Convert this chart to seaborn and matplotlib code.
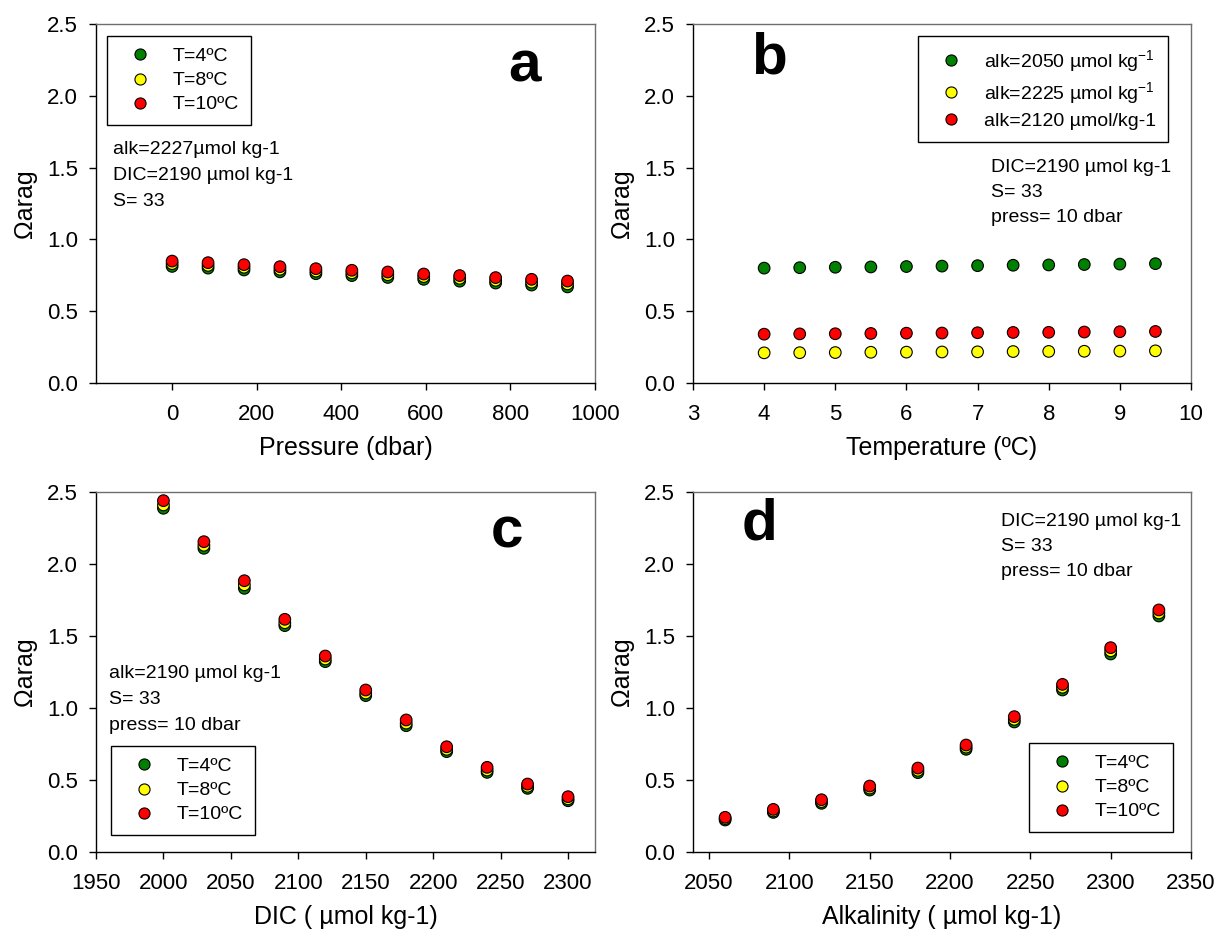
import numpy as np
import pandas as pd
import matplotlib
matplotlib.use("Agg")
import matplotlib.pyplot as plt
from matplotlib.lines import Line2D
import seaborn as sns

# ---------------- data ----------------
temp_labels = ["T=4ºC", "T=8ºC", "T=10ºC"]

# panel a : pressure
pressure = [0, 85, 170, 255, 340, 425, 510, 595, 680, 765, 850, 935]
a_t4 = [0.812, 0.800, 0.787, 0.774, 0.761, 0.748, 0.735, 0.722, 0.709, 0.696, 0.682, 0.669]
a_t8 = [0.831, 0.819, 0.806, 0.792, 0.779, 0.767, 0.754, 0.741, 0.729, 0.715, 0.702, 0.690]
a_t10 = [0.849, 0.838, 0.824, 0.810, 0.796, 0.785, 0.773, 0.759, 0.748, 0.734, 0.722, 0.710]

# panel b : temperature
temperature = [4, 4.5, 5, 5.5, 6, 6.5, 7, 7.5, 8, 8.5, 9, 9.5]
alk_labels = ["alk=2050 µmol kg$^{-1}$", "alk=2225 µmol kg$^{-1}$", "alk=2120 µmol/kg-1"]
b_alk2050 = [0.800, 0.803, 0.806, 0.808, 0.811, 0.814, 0.817, 0.820, 0.822, 0.825, 0.828, 0.831]
b_alk2225 = [0.210, 0.211, 0.212, 0.214, 0.215, 0.216, 0.217, 0.219, 0.220, 0.221, 0.222, 0.224]
b_alk2120 = [0.340, 0.342, 0.343, 0.345, 0.347, 0.348, 0.350, 0.352, 0.353, 0.355, 0.357, 0.359]

# panel c : DIC
dic = [2000, 2030, 2060, 2090, 2120, 2150, 2180, 2210, 2240, 2270, 2300]
c_t4 = [2.387, 2.109, 1.831, 1.572, 1.322, 1.086, 0.877, 0.697, 0.553, 0.442, 0.356]
c_t8 = [2.410, 2.130, 1.855, 1.592, 1.340, 1.104, 0.895, 0.713, 0.569, 0.456, 0.369]
c_t10 = [2.440, 2.155, 1.884, 1.616, 1.361, 1.125, 0.917, 0.731, 0.588, 0.472, 0.384]

# panel d : alkalinity
alkalinity = [2060, 2090, 2120, 2150, 2180, 2210, 2240, 2270, 2300, 2330]
d_t4 = [0.222, 0.275, 0.338, 0.430, 0.551, 0.713, 0.903, 1.125, 1.375, 1.639]
d_t8 = [0.232, 0.285, 0.350, 0.444, 0.567, 0.728, 0.921, 1.144, 1.397, 1.660]
d_t10 = [0.241, 0.296, 0.363, 0.458, 0.583, 0.743, 0.940, 1.164, 1.419, 1.681]

# ---------------- style ----------------
sns.set_theme(style="white")
plt.rcParams["font.family"] = ["Liberation Sans", "DejaVu Sans"]
plt.rcParams["mathtext.fontset"] = "custom"
plt.rcParams["mathtext.rm"] = "Liberation Sans"
plt.rcParams["mathtext.it"] = "Liberation Sans:italic"
plt.rcParams["text.color"] = "black"
plt.rcParams["axes.labelcolor"] = "black"
plt.rcParams["xtick.color"] = "black"
plt.rcParams["ytick.color"] = "black"

COLORS = ["#008000", "#FFFF00", "#FF0000"]
W, H = 1219, 934
fig = plt.figure(figsize=(W / 100, H / 100), dpi=100)


def rect(l, t, r, b):
    return [l / W, 1 - b / H, (r - l) / W, (b - t) / H]


def long_df(x, series, names):
    rows = []
    for s, n in zip(series, names):
        for xi, yi in zip(x, s):
            rows.append({"x": xi, "y": yi, "grp": n})
    return pd.DataFrame(rows)


def style_ax(ax, xlim, xticks, xlabel):
    ax.set_xlim(*xlim)
    ax.set_ylim(0, 2.5)
    ax.set_xticks(xticks)
    ax.set_yticks([0, 0.5, 1.0, 1.5, 2.0, 2.5])
    ax.set_yticklabels(["0.0", "0.5", "1.0", "1.5", "2.0", "2.5"])
    ax.tick_params(axis="x", direction="out", length=5, width=1, pad=10,
                   labelsize=16, colors="black", bottom=True)
    ax.tick_params(axis="y", direction="out", length=5, width=1, pad=8,
                   labelsize=16, colors="black", left=True)
    for side in ["left", "bottom"]:
        ax.spines[side].set_color("black")
        ax.spines[side].set_linewidth(1.0)
    for side in ["top", "right"]:
        ax.spines[side].set_color("#6e6e6e")
        ax.spines[side].set_linewidth(1.0)
    ax.set_xlabel(xlabel, fontsize=18, labelpad=8)
    ax.set_ylabel("Ωarag", fontsize=18, labelpad=7)


def scatter(ax, x, series, names):
    df = long_df(x, series, names)
    sns.scatterplot(data=df, x="x", y="y", hue="grp", hue_order=names,
                    palette=COLORS, s=70, edgecolor="black", linewidth=0.8,
                    legend=False, ax=ax, zorder=3)


def legend(ax, names, l, t):
    handles = [Line2D([0], [0], marker="o", linestyle="none", markersize=8,
                      markerfacecolor=c, markeredgecolor="black", markeredgewidth=0.8)
               for c in COLORS]
    leg = ax.legend(handles, names, loc="upper left",
                    bbox_to_anchor=(l / W, 1 - t / H), bbox_transform=fig.transFigure,
                    fontsize=14, frameon=True, fancybox=False, shadow=False,
                    borderpad=0.6, labelspacing=0.33, handlelength=2.2,
                    handletextpad=0.6, borderaxespad=0, framealpha=1)
    leg.get_frame().set_edgecolor("black")
    leg.get_frame().set_linewidth(1.0)
    return leg


def ftext(x, y, s, **kw):
    fig.text(x / W, 1 - y / H, s, **kw)


# ---------------- panel a ----------------
ax_a = fig.add_axes(rect(96, 24, 595, 383))
scatter(ax_a, pressure, [a_t4, a_t8, a_t10], temp_labels)
style_ax(ax_a, (-180, 1000), [0, 200, 400, 600, 800, 1000], "Pressure (dbar)")
legend(ax_a, temp_labels, 107, 36)
for i, s in enumerate(["alk=2227µmol kg-1", "DIC=2190 µmol kg-1", "S= 33"]):
    ftext(113, 150 + 25.5 * i, s, fontsize=14, va="center", ha="left")
ftext(524, 67, "a", fontsize=42, fontweight="bold", ha="center", va="center")

# ---------------- panel b ----------------
ax_b = fig.add_axes(rect(693, 24, 1191, 383))
scatter(ax_b, temperature, [b_alk2050, b_alk2225, b_alk2120], alk_labels)
style_ax(ax_b, (3, 10), [3, 4, 5, 6, 7, 8, 9, 10], "Temperature (ºC)")
legend(ax_b, alk_labels, 918, 36)
for i, s in enumerate(["DIC=2190 µmol kg-1", "S= 33", "press= 10 dbar"]):
    ftext(991, 167 + 25.5 * i, s, fontsize=14, va="center", ha="left")
ftext(769, 58, "b", fontsize=42, fontweight="bold", ha="center", va="center")

# ---------------- panel c ----------------
ax_c = fig.add_axes(rect(96, 492, 595, 852))
scatter(ax_c, dic, [c_t4, c_t8, c_t10], temp_labels)
style_ax(ax_c, (1950, 2320), [1950, 2000, 2050, 2100, 2150, 2200, 2250, 2300],
         "DIC ( µmol kg-1)")
legend(ax_c, temp_labels, 111, 746)
for i, s in enumerate(["alk=2190 µmol kg-1", "S= 33", "press= 10 dbar"]):
    ftext(109, 674 + 25.5 * i, s, fontsize=14, va="center", ha="left")
ftext(507, 532, "c", fontsize=42, fontweight="bold", ha="center", va="center")

# ---------------- panel d ----------------
ax_d = fig.add_axes(rect(693, 492, 1191, 852))
scatter(ax_d, alkalinity, [d_t4, d_t8, d_t10], temp_labels)
style_ax(ax_d, (2040, 2350), [2050, 2100, 2150, 2200, 2250, 2300, 2350],
         "Alkalinity ( µmol kg-1)")
legend(ax_d, temp_labels, 1029, 743)
for i, s in enumerate(["DIC=2190 µmol kg-1", "S= 33", "press= 10 dbar"]):
    ftext(1001, 521 + 25.5 * i, s, fontsize=14, va="center", ha="left")
ftext(759, 525, "d", fontsize=42, fontweight="bold", ha="center", va="center")

fig.savefig("out.png", dpi=100, facecolor="white")
